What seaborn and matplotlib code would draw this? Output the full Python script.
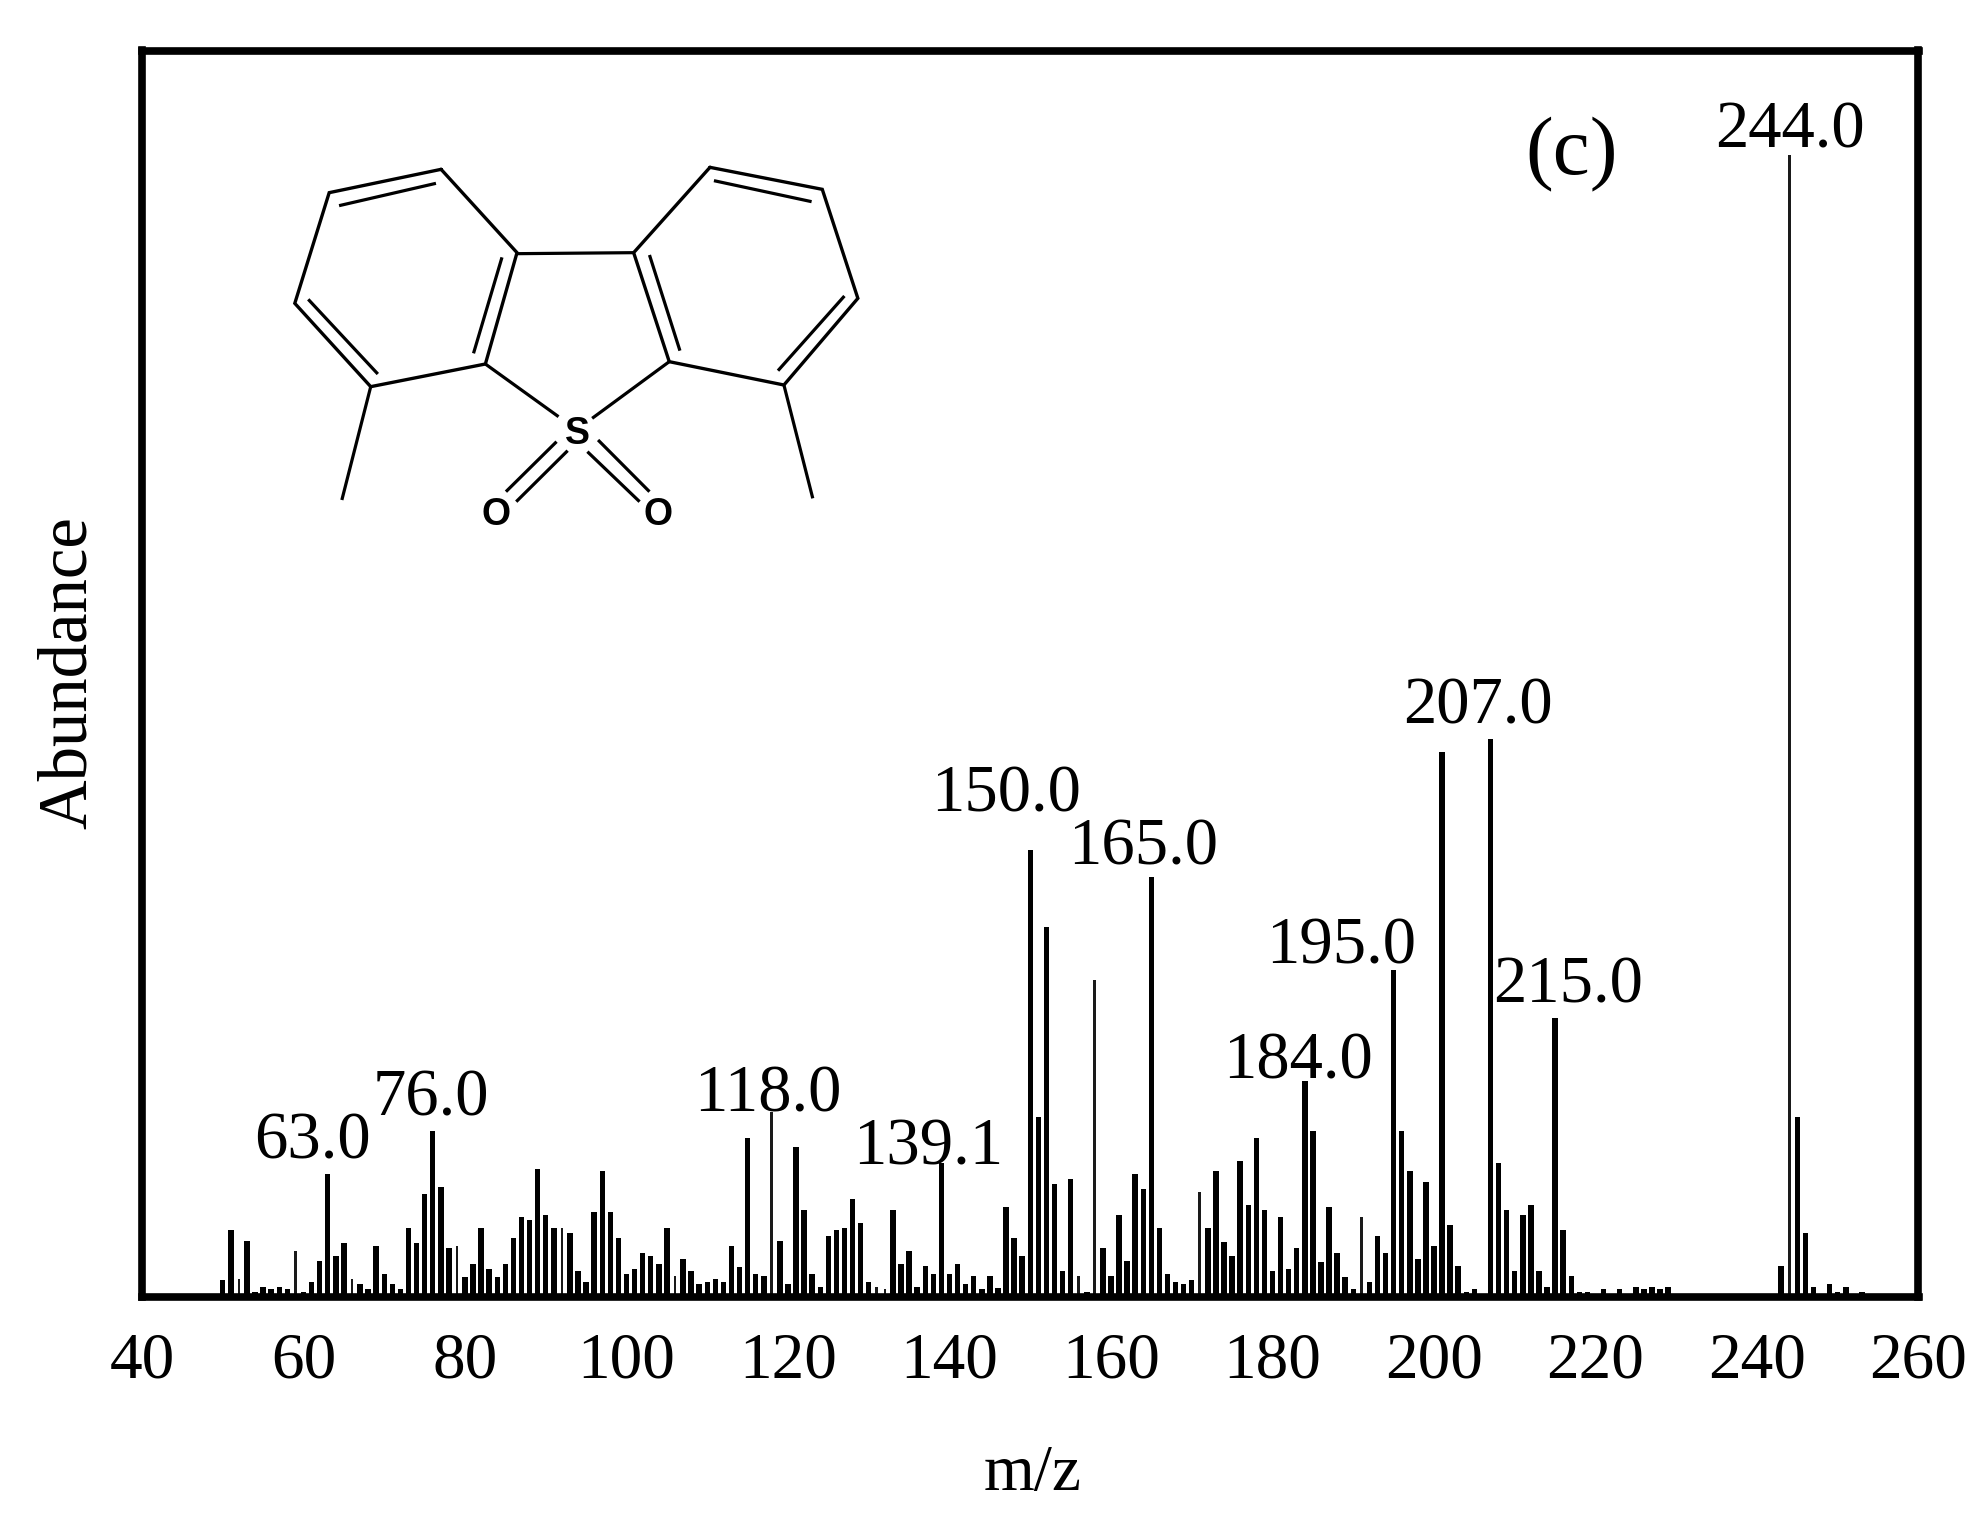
import matplotlib
matplotlib.use("Agg")
import matplotlib.pyplot as plt
import pandas as pd
import seaborn as sns

# peaks, abundance in arbitrary counts
MZ = list(range(50, 230)) + list(range(243, 254))
ABUNDANCE = [
    43, 193, 46, 161, 8, 23, 15, 23, 15, 131,
    8, 38, 100, 361, 115, 153, 46, 31, 15, 146,
    61, 31, 15, 200, 155, 301, 491, 323, 138, 146,
    53, 92, 200, 77, 53, 92, 168, 231, 223, 377,
    239, 200, 200, 185, 69, 38, 246, 369, 246, 169,
    61, 77, 123, 115, 92, 200, 54, 107, 69, 30,
    38, 46, 38, 146, 83, 469, 61, 54, 546, 161,
    30, 443, 254, 61, 23, 175, 192, 200, 285, 215,
    38, 23, 15, 253, 92, 131, 23, 84, 61, 393,
    61, 92, 30, 54, 15, 54, 18, 261, 169, 115,
    1332, 531, 1103, 331, 69, 346, 54, 8, 943, 138,
    54, 238, 100, 361, 315, 1252, 200, 61, 38, 31,
    43, 306, 200, 369, 158, 115, 400, 269, 469, 253,
    69, 231, 77, 138, 639, 491, 98, 261, 123, 53,
    15, 231, 38, 176, 123, 974, 491, 369, 107, 338,
    146, 1628, 207, 84, 8, 15, 0, 1666, 393, 253,
    69, 238, 269, 69, 23, 829, 192, 54, 8, 8,
    0, 15, 0, 15, 0, 23, 15, 23, 15, 23,
    84, 3418, 531, 183, 23, 0, 30, 8, 23, 0, 8,
]
THIN_PEAKS = [52, 59, 66, 79, 92, 106, 118, 131, 132, 156, 158, 171, 191, 244]
X_TICKS = [40, 60, 80, 100, 120, 140, 160, 180, 200, 220, 240, 260]
PEAK_LABELS = ["63.0", "76.0", "118.0", "139.1", "150.0", "165.0", "184.0", "195.0", "207.0", "215.0", "244.0"]
LABEL_X = [61.1, 75.8, 117.5, 137.3, 147.0, 164.0, 183.2, 188.5, 205.4, 216.6, 244.1]
LABEL_Y = [407, 536, 548, 389, 1448, 1289, 647, 992, 1712, 875, 3440]

# 4,6-dimethyldibenzothiophene sulfone sketch, in the drawing's own units
RING_LEFT = [(458, 88), (175, 158), (88, 490), (280, 740), (570, 672), (650, 338), (458, 88)]
RING_RIGHT = [(1138, 82), (1422, 148), (1512, 475), (1325, 735), (1035, 665), (945, 338), (1138, 82)]
BONDS = [
    ((445, 130), (200, 197)),
    ((122, 478), (298, 702)),
    ((612, 352), (540, 640)),
    ((1148, 122), (1395, 185)),
    ((1478, 468), (1310, 692)),
    ((985, 345), (1062, 632)),
    ((650, 341), (945, 338)),
    ((570, 672), (755, 830)),
    ((1035, 665), (840, 835)),
    ((750, 905), (622, 1055)),
    ((778, 932), (648, 1085)),
    ((855, 900), (985, 1055)),
    ((828, 935), (960, 1085)),
    ((280, 740), (207, 1080)),
    ((1325, 735), (1398, 1075)),
]
ATOMS = [("S", 802, 882), ("O", 597, 1125), ("O", 1007, 1125)]

sns.set_style("white")
plt.rcParams["font.family"] = ["Liberation Serif", "DejaVu Serif"]
plt.rcParams["text.color"] = "black"
plt.rcParams["axes.labelcolor"] = "black"
plt.rcParams["xtick.color"] = "black"

data = pd.DataFrame({"mz": MZ, "abundance": ABUNDANCE})
thin = data["mz"].isin(THIN_PEAKS)

W, H = 1984, 1518
f = plt.figure(figsize=(W / 100, H / 100), dpi=100)
ax = f.add_axes([142 / W, 1 - 1297 / H, 1776.5 / W, 1246.5 / H])

sns.barplot(data=data[~thin], x="mz", y="abundance", native_scale=True, color="black",
            saturation=1, width=0.68, linewidth=0, errorbar=None, ax=ax)
sns.barplot(data=data[thin], x="mz", y="abundance", native_scale=True, color="#1a1a1a",
            saturation=1, width=0.34, linewidth=0, errorbar=None, ax=ax)

ax.set_xlim(40, 260)
ax.set_ylim(-8, 3732)
ax.set_xticks(X_TICKS)
ax.set_xticklabels([str(t) for t in X_TICKS])
ax.set_yticks([])
ax.tick_params(axis="x", length=0, pad=25, labelsize=47)
for s in ax.spines.values():
    s.set_visible(True)
    s.set_color("black")
    s.set_linewidth(5.5)

ax.set_xlabel("m/z", fontsize=47, va="center")
ax.set_ylabel("Abundance", fontsize=49.5, va="center")
ax.xaxis.set_label_coords(0.5015, -0.142)
ax.yaxis.set_label_coords(-0.041, 0.501)

for s, x, y in zip(PEAK_LABELS, LABEL_X, LABEL_Y):
    ax.text(x, y, s, fontsize=48, ha="center", va="baseline")
ax.text(217, 3360, "(c)", fontsize=60, ha="center", va="baseline")

# molecule inset
mol = f.add_axes([260 / W, 1 - 560 / H, 620 / W, 420 / H])
mol.set_xlim(0, 1568)
mol.set_ylim(1260, 0)
mol.axis("off")
mol.patch.set_alpha(0)
for ring in (RING_LEFT, RING_RIGHT):
    mol.plot(*zip(*ring), color="black", lw=2.4, solid_joinstyle="miter")
for a, b in BONDS:
    mol.plot(*zip(a, b), color="black", lw=2.3, solid_capstyle="butt")
for s, x, y in ATOMS:
    mol.text(x, y, s, fontsize=27, family="Liberation Sans", weight="bold", ha="center", va="center")

plt.savefig("out.png", dpi=100)
plt.close()
